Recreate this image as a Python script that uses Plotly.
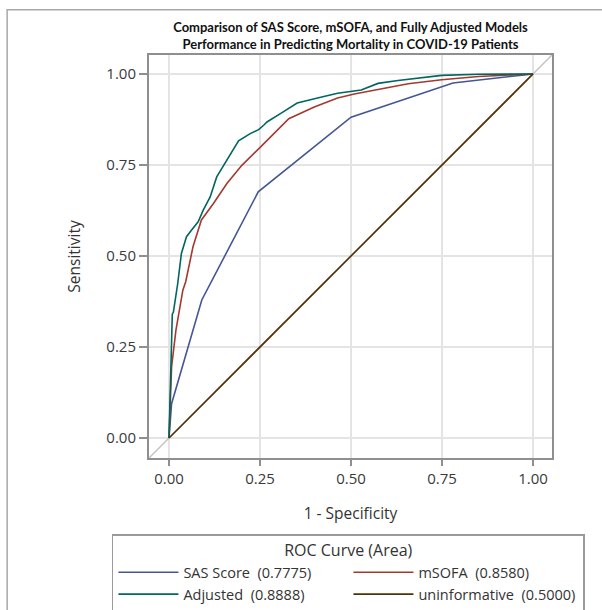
import plotly.graph_objects as go

# ---- data ----
sas_fpr = [0.0, 0.007, 0.09, 0.245, 0.50, 0.78, 1.0]
sas_tpr = [0.0, 0.094, 0.379, 0.676, 0.881, 0.975, 1.0]

msofa_fpr = [0.0, 0.003, 0.007, 0.019, 0.038, 0.046, 0.066, 0.089, 0.122, 0.159, 0.20, 0.251,
             0.288, 0.329, 0.399, 0.463, 0.509, 0.583, 0.657, 0.749, 0.85, 1.0]
msofa_tpr = [0.0, 0.112, 0.195, 0.296, 0.406, 0.43, 0.526, 0.599, 0.644, 0.699, 0.749, 0.799,
             0.836, 0.877, 0.909, 0.934, 0.945, 0.959, 0.973, 0.984, 0.993, 1.0]

adj_fpr = [0.0, 0.003, 0.006, 0.009, 0.012, 0.024, 0.034, 0.048, 0.062, 0.080, 0.094, 0.113,
           0.131, 0.159, 0.191, 0.223, 0.246, 0.26, 0.269, 0.306, 0.352, 0.408, 0.463, 0.528,
           0.574, 0.629, 0.703, 0.749, 0.85, 1.0]
adj_tpr = [0.0, 0.094, 0.204, 0.34, 0.346, 0.425, 0.507, 0.553, 0.571, 0.594, 0.626, 0.662,
           0.717, 0.763, 0.816, 0.836, 0.847, 0.859, 0.868, 0.891, 0.920, 0.934, 0.947, 0.956,
           0.974, 0.982, 0.991, 0.996, 0.999, 1.0]

uninf_fpr = [0.0, 1.0]
uninf_tpr = [0.0, 1.0]

ref_diag = [-0.06, 1.06]

series_names = ["SAS Score\u00a0 (0.7775)", "mSOFA\u00a0 (0.8580)",
                "Adjusted\u00a0 (0.8888)", "uninformative\u00a0 (0.5000)"]
tick_vals = [0.0, 0.25, 0.5, 0.75, 1.0]
tick_text = ["0.00", "0.25", "0.50", "0.75", "1.00"]

colors = ["#445694", "#A23A2E", "#01665E", "#543005"]

fig = go.Figure()
fig.add_trace(go.Scatter(x=ref_diag, y=ref_diag, mode="lines", showlegend=False,
                         hoverinfo="skip", line=dict(color="#c4c4c4", width=1.5)))
for fx, ty, name, col in [(sas_fpr, sas_tpr, series_names[0], colors[0]),
                          (msofa_fpr, msofa_tpr, series_names[1], colors[1]),
                          (adj_fpr, adj_tpr, series_names[2], colors[2]),
                          (uninf_fpr, uninf_tpr, series_names[3], colors[3])]:
    fig.add_trace(go.Scatter(x=fx, y=ty, mode="lines", name=name,
                             line=dict(color=col, width=1.6)))

axis_common = dict(
    range=[-0.055, 1.052], tickvals=tick_vals, ticktext=tick_text,
    showgrid=True, gridcolor="#e4e4e4", gridwidth=1.5, zeroline=False,
    showline=True, mirror=True, linecolor="#8f8f8f", linewidth=2,
    ticks="outside", tickcolor="#8f8f8f", tickwidth=2,
    tickfont=dict(family="Open Sans", size=15, color="#3a3a3a"),
)

fig.update_layout(
    width=602, height=610,
    margin=dict(l=149, r=50, t=55, b=152, autoexpand=False),
    paper_bgcolor="white", plot_bgcolor="white",
    title=dict(text="Comparison of SAS Score, mSOFA, and Fully Adjusted Models<br>"
                    "Performance in Predicting Mortality in COVID-19 Patients",
               x=0.5, xref="paper", xanchor="center",
               y=1 - 32 / 610, yref="container", yanchor="middle",
               font=dict(family="Lato", size=13, color="#111111", weight="bold")),
    xaxis=dict(**axis_common, ticklen=6,
               title=dict(text="1 - Specificity", standoff=21,
                          font=dict(family="Open Sans", size=15.5, color="#333333"))),
    yaxis=dict(**axis_common, ticklen=8,
               title=dict(text="Sensitivity", standoff=22,
                          font=dict(family="Open Sans", size=15.5, color="#333333"))),
    legend=dict(orientation="h", x=-0.092, xanchor="left", y=-0.1886, yanchor="top",
                bordercolor="#9a9a9a", borderwidth=1.5, bgcolor="white",
                entrywidth=160, entrywidthmode="pixels", itemwidth=60,
                tracegroupgap=0,
                font=dict(family="Open Sans", size=14.5, color="#333333"),
                title=dict(text="ROC Curve (Area)", side="top center",
                           font=dict(family="Open Sans", size=16, color="#333333"))),
    shapes=[dict(type="rect", xref="paper", yref="paper",
                 x0=-0.352, x1=1.2, y0=-0.45, y1=1.112,
                 line=dict(color="#a8a8a8", width=1.5), layer="below")],
)

fig.write_html("out.html", config={"displayModeBar": False},
               post_script="document.body.style.margin='0';document.body.style.padding='0';")
